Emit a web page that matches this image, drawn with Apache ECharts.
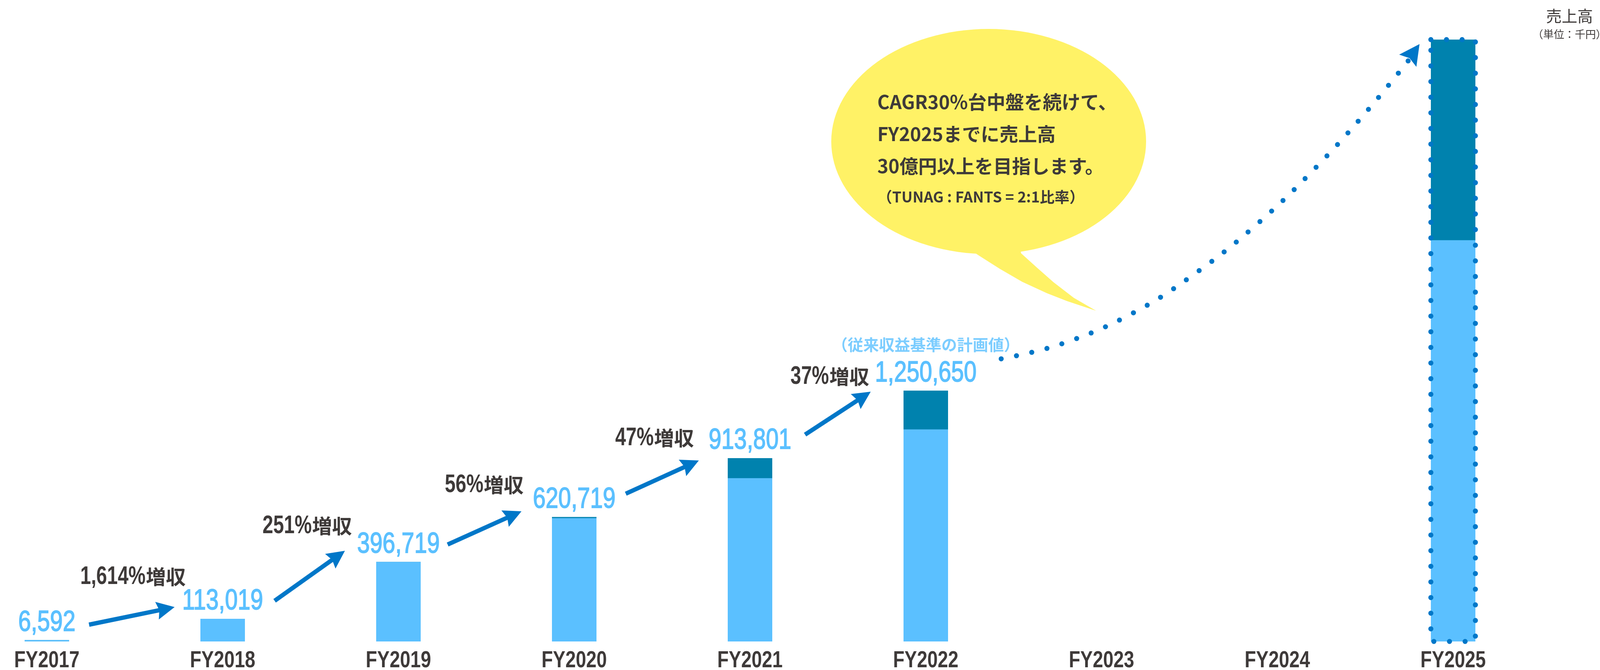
<!DOCTYPE html>
<html><head><meta charset="utf-8">
<script src="https://cdn.jsdelivr.net/npm/echarts@6/dist/echarts.min.js"></script>
<style>html,body{margin:0;padding:0;background:#fff}#c{width:4107px;height:1714px}</style>
</head><body><div id="c"></div>
<script>
// ---------- data ----------
const categories = ['FY2017','FY2018','FY2019','FY2020','FY2021','FY2022','FY2023','FY2024','FY2025'];
const totalSales = [6592, 113019, 396719, 620719, 913801, 1250650, null, null, 3000000];
const tunagSales = [6592, 113019, 396719, 614719, 813801, 1057000, null, null, 2000000];
const fantsSales = [0, 0, 0, 6000, 100000, 193650, null, null, 1000000];
const planYearIndex = 8;
const growthRates = [1614, 251, 56, 47, 37];
const noteText = '（従来収益基準の計画値）';
const bubbleLines = ['CAGR30%台中盤を続けて、', 'FY2025までに売上高', '30億円以上を目指します。', '（TUNAG : FANTS = 2:1比率）'];

// ---------- annotation anchors (axis units: x = year index, y = value) ----------
const growthAnchors = [[0.489, 321500], [1.48, 574800], [2.487, 779400], [3.456, 1013200], [4.453, 1319100]];
const arrowSegments = [
  [0.24, 83800, 0.7267, 171500],
  [1.2956, 202600, 1.6956, 452100],
  [2.28, 483200, 2.70, 648900],
  [3.2933, 736500, 3.7089, 902200],
  [4.3133, 1030800, 4.6867, 1245100]
];
const noteAnchor = [[5, 1478900]];
const curvePoints = [[5.429, 1408800], [5.771, 1482800], [6.178, 1636700], [6.553, 1847200],
  [6.898, 2090700], [7.218, 2361600], [7.516, 2650000], [7.749, 2899400]];
const curveHead = [[7.689, 2829300, 7.8089, 2977500]];

// ---------- styles ----------
const LAT = '"Liberation Sans",Arial,sans-serif';
const CJK = '"Noto Sans CJK JP",sans-serif';
const LIGHT = '#5BC0FF', DARK = '#0082AE', ARROW = '#0077C8', INK = '#3E3A39', BUBBLE = '#FFF266';

const mctx = document.createElement('canvas').getContext('2d');
function textWidth(t, font) { mctx.font = font; return mctx.measureText(t).width; }

function arrowRenderer(headLen, headW, notch, shaftW) {
  return function (params, api) {
    const p1 = api.coord([api.value(0), api.value(1)]);
    const p2 = api.coord([api.value(2), api.value(3)]);
    const dx = p2[0] - p1[0], dy = p2[1] - p1[1];
    const L = Math.hypot(dx, dy) || 1;
    const ux = dx / L, uy = dy / L, nx = -uy, ny = ux;
    const bx = p2[0] - ux * headLen, by = p2[1] - uy * headLen;
    const mx = bx + ux * notch, my = by + uy * notch;
    const children = [];
    if (shaftW > 0) {
      children.push({ type: 'line', shape: { x1: p1[0], y1: p1[1], x2: mx + ux * 2, y2: my + uy * 2 },
        style: { stroke: ARROW, lineWidth: shaftW, lineCap: 'butt' } });
    }
    children.push({ type: 'polygon', shape: { points: [[p2[0], p2[1]], [bx + nx * headW / 2, by + ny * headW / 2], [mx, my], [bx - nx * headW / 2, by - ny * headW / 2]] },
      style: { fill: ARROW } });
    return { type: 'group', children };
  };
}

const indexData = categories.map((c, i) => [i, 0]);
// stacked columns: FANTS segment sits on top of TUNAG segment
const barLight = tunagSales.map((v, i) => [i, v]);
const barStackTop = tunagSales.map((v, i) => [i, v == null ? null : v + fantsSales[i]]);
const valueLabelData = totalSales.map((v, i) => [i, v]).filter(d => d[1] != null && d[0] !== planYearIndex);
const planData = [[planYearIndex, totalSales[planYearIndex]]];

const chart = echarts.init(document.getElementById('c'), null, { renderer: 'canvas' });
const textEls = bubbleLines.map((t, i) => ({
  type: 'text', x: 2246, y: [261, 343, 425, 504][i], z: 20,
  style: { text: t, fill: INK, font: (i === 3 ? 'bold 38px ' : 'bold 48px ') + CJK, align: 'left', verticalAlign: 'middle' }
}));

chart.setOption({
  animation: false,
  backgroundColor: '#ffffff',
  grid: { left: 0, right: 0, top: 50, bottom: 73, containLabel: false },
  xAxis: { type: 'value', min: -120 / 450, max: (4107 - 120) / 450, show: false },
  yAxis: { type: 'value', min: 0, max: 3100000, show: false },
  graphic: [
    { type: 'circle', x: 2531, y: 362, scaleX: 403 / 288, shape: { cx: 0, cy: 0, r: 288 }, style: { fill: BUBBLE }, z: 1 },
    { type: 'polygon', z: 1, shape: { points: [[2470, 630], [2508, 655], [2560, 688], [2617, 721], [2680, 750], [2731, 770], [2806, 795], [2749, 762], [2697, 722], [2655, 685], [2614, 648], [2610, 630]] }, style: { fill: BUBBLE } },
    ...textEls,
    { type: 'text', x: 4018, y: 41, z: 20, style: { text: '売上高', fill: INK, font: '40px ' + CJK, align: 'center', verticalAlign: 'middle' } },
    { type: 'text', x: 4018, y: 88, z: 20, style: { text: '（単位：千円）', fill: INK, font: '27px ' + CJK, align: 'center', verticalAlign: 'middle' } }
  ],
  series: [
    { name: 'FANTS', type: 'bar', data: barStackTop, barWidth: 114, barGap: '-100%', itemStyle: { color: DARK }, silent: true, z: 2 },
    { name: 'TUNAG', type: 'bar', data: barLight, barWidth: 114, barGap: '-100%', itemStyle: { color: LIGHT }, silent: true, z: 3 },
    { name: 'plan', type: 'custom', data: planData, z: 5, silent: true,
      renderItem: (params, api) => {
        const top = api.coord([api.value(0), api.value(1)]);
        const bot = api.coord([api.value(0), 0]);
        return { type: 'rect', shape: { x: top[0] - 57, y: top[1], width: 114, height: bot[1] - top[1] },
          style: { fill: 'none', stroke: ARROW, lineWidth: 13, lineDash: [0, 40], lineCap: 'round' } };
      } },
    { name: 'axisLabels', type: 'custom', data: indexData, z: 6, silent: true,
      renderItem: (params, api) => {
        const p = api.coord([api.value(0), 0]);
        return { type: 'text', x: p[0], y: p[1] + 50, scaleX: 0.81,
          style: { text: categories[params.dataIndex], font: 'bold 59px ' + LAT, fill: INK, align: 'center', verticalAlign: 'middle' } };
      } },
    { name: 'valueLabels', type: 'custom', data: valueLabelData, z: 6, silent: true,
      renderItem: (params, api) => {
        const p = api.coord([api.value(0), api.value(1)]);
        return { type: 'text', x: p[0], y: p[1] - 44, scaleX: 0.79,
          style: { text: api.value(1).toLocaleString('en-US'), font: '74px ' + LAT, fill: LIGHT, stroke: LIGHT, lineWidth: 2, align: 'center', verticalAlign: 'middle' } };
      } },
    { name: 'arrows', type: 'custom', data: arrowSegments, z: 4, silent: true,
      encode: { x: [0, 2], y: [1, 3] }, renderItem: arrowRenderer(46, 46, 6, 11) },
    { name: 'curve', type: 'line', data: curvePoints, smooth: 0.4, symbol: 'none', z: 4, silent: true,
      lineStyle: { color: ARROW, width: 13, type: [0, 40], cap: 'round' } },
    { name: 'curveHead', type: 'custom', data: curveHead, z: 4, silent: true,
      encode: { x: [0, 2], y: [1, 3] }, renderItem: arrowRenderer(52, 54, 8, 0) },
    { name: 'growth', type: 'custom', data: growthAnchors, z: 6, silent: true,
      renderItem: (params, api) => {
        const p = api.coord([api.value(0), api.value(1)]);
        const num = growthRates[params.dataIndex].toLocaleString('en-US') + '%';
        const numFont = 'bold 64px ' + LAT, kFont = 'bold 51px ' + CJK;
        const sx = 0.77;
        const nw = textWidth(num, numFont) * sx, kw = textWidth('増収', kFont);
        const left = p[0] - (nw + kw) / 2;
        return { type: 'group', children: [
          { type: 'text', x: left, y: p[1], scaleX: sx, style: { text: num, font: numFont, fill: INK, align: 'left', verticalAlign: 'middle' } },
          { type: 'text', x: left + nw + 1, y: p[1], style: { text: '増収', font: kFont, fill: INK, align: 'left', verticalAlign: 'middle' } }
        ] };
      } },
    { name: 'note', type: 'scatter', data: noteAnchor, symbolSize: 1, itemStyle: { color: 'rgba(0,0,0,0)' }, z: 6, silent: true,
      label: { show: true, position: 'inside', formatter: noteText, fontFamily: CJK, fontWeight: 'bold', fontSize: 40, color: LIGHT } }
  ]
});
</script></body></html>
